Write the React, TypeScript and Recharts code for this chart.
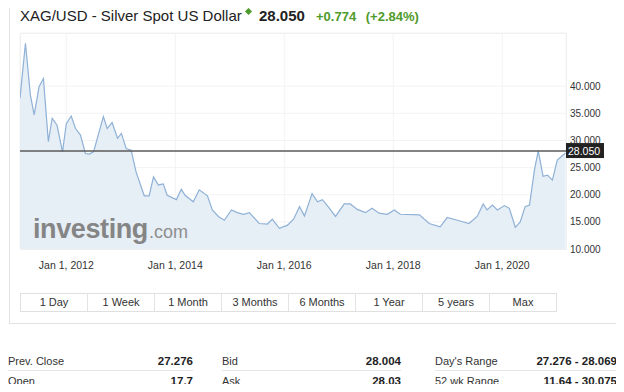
import React from "react";
import {
    Area,
    AreaChart,
    CartesianGrid,
    ReferenceLine,
    XAxis,
    YAxis
} from "recharts";

// --- dữ liệu (năm thập phân, giá bạc USD) ---
const years = [
    2011.15, 2011.25, 2011.34, 2011.41, 2011.50, 2011.58, 2011.67, 2011.74, 2011.83, 2011.93,
    2012.00, 2012.09, 2012.17, 2012.26, 2012.35, 2012.42, 2012.50, 2012.68, 2012.75, 2012.84,
    2012.94, 2013.01, 2013.10, 2013.19, 2013.28, 2013.43, 2013.52, 2013.60, 2013.69, 2013.78,
    2013.85, 2014.02, 2014.11, 2014.18, 2014.33, 2014.44, 2014.59, 2014.68, 2014.79, 2014.90,
    2015.03, 2015.14, 2015.25, 2015.36, 2015.54, 2015.69, 2015.78, 2015.91, 2016.06, 2016.17,
    2016.28, 2016.37, 2016.51, 2016.61, 2016.70, 2016.83, 2016.94, 2017.10, 2017.21, 2017.34,
    2017.49, 2017.61, 2017.74, 2017.89, 2018.02, 2018.13, 2018.48, 2018.66, 2018.86, 2018.99,
    2019.21, 2019.39, 2019.54, 2019.65, 2019.72, 2019.82, 2019.91, 2020.04, 2020.13, 2020.24,
    2020.33, 2020.42, 2020.50, 2020.59, 2020.66, 2020.75, 2020.83, 2020.92, 2021.01, 2021.08,
    2021.16
];
const prices = [
    37.8, 47.9, 38.4, 34.7, 39.9, 41.4, 29.8, 34.1, 32.8, 27.9,
    33.1, 34.5, 32.2, 31.0, 27.6, 27.5, 27.9, 34.4, 32.2, 33.3,
    30.4, 31.3, 28.5, 28.2, 24.2, 19.8, 19.8, 23.3, 21.8, 22.0,
    19.9, 19.1, 21.0, 19.9, 18.7, 20.9, 19.8, 17.2, 16.0, 15.3,
    17.2, 16.7, 16.4, 16.7, 14.7, 14.6, 15.5, 13.8, 14.4, 15.5,
    17.8, 16.1, 20.2, 18.7, 19.1, 17.5, 16.0, 18.3, 18.3, 17.3,
    16.7, 17.5, 16.6, 16.4, 17.2, 16.4, 16.3, 14.7, 14.1, 15.8,
    15.2, 14.7, 16.0, 18.3, 17.2, 18.1, 17.2, 18.0, 17.5, 14.0,
    15.0, 17.8, 18.1, 24.5, 28.1, 23.4, 23.6, 22.7, 26.4, 27.0,
    27.7
];
const xTicks = [2012, 2014, 2016, 2018, 2020];
const yTicks = [10, 15, 20, 25, 30, 35, 40];
const lastPrice = 28.05;

const ranges = ["1 Day", "1 Week", "1 Month", "3 Months", "6 Months", "1 Year", "5 years", "Max"];

const statLabels = [["Prev. Close", "Open"], ["Bid", "Ask"], ["Day's Range", "52 wk Range"]];
const statValues = [["27.276", "17.7"], ["28.004", "28.03"], ["27.276 - 28.069", "11.64 - 30.075"]];

const data = years.map((t, i) => ({ t, price: prices[i] }));

const FONT = '"Liberation Sans", Arial, Helvetica, sans-serif';
const GREEN = "#4f9a2c";

const PriceTag = (props: any) => {
    const vb = props.viewBox || {};
    const x = vb.x + vb.width;
    const y = vb.y;
    return (
        <g>
            <rect x={x} y={y - 8} width={38} height={15} fill="#222" />
            <text x={x + 2} y={y + 3.5} fill="#fff" fontSize={10.5} fontFamily={FONT}>
                {lastPrice.toFixed(3)}
            </text>
        </g>
    );
};

export default function App() {
    const cols = [
        { left: 8, right: 193 },
        { left: 222, right: 401 },
        { left: 435, right: 617 }
    ];
    return (
        <div style={{ position: "relative", margin: -8, width: 624, height: 392, overflow: "hidden", background: "#fff", fontFamily: FONT, color: "#333" }}>
            {/* khung */}
            <div style={{ position: "absolute", left: 9, top: -5, width: 608, height: 327, border: "1px solid #e2e2e2" }} />

            {/* tiêu đề */}
            <div style={{ position: "absolute", left: 20, top: 7, fontSize: 15, whiteSpace: "nowrap", lineHeight: "17px", color: "#222" }}>
                XAG/USD - Silver Spot US Dollar
            </div>
            <div style={{ position: "absolute", left: 246, top: 9, width: 5, height: 5, background: GREEN, transform: "rotate(45deg)" }} />
            <div style={{ position: "absolute", left: 259, top: 7, fontSize: 15, fontWeight: "bold", lineHeight: "17px", color: "#222" }}>28.050</div>
            <div style={{ position: "absolute", left: 316, top: 9, fontSize: 13, fontWeight: "bold", lineHeight: "15px", color: GREEN, whiteSpace: "nowrap" }}>
                +0.774 <span style={{ marginLeft: 6 }}>(+2.84%)</span>
            </div>

            {/* viền vùng vẽ */}
            <div style={{ position: "absolute", left: 20, top: 33, width: 545, height: 215, border: "1px solid #ededed" }} />

            <div style={{ position: "absolute", left: 0, top: 0 }}>
                <AreaChart width={624} height={285} data={data} margin={{ top: 33, right: 0, left: 20, bottom: 0 }}>
                    <CartesianGrid stroke="#f3f3f3" />
                    <XAxis
                        dataKey="t"
                        type="number"
                        domain={[2011.15, 2021.17]}
                        ticks={xTicks}
                        tickFormatter={(v) => `Jan 1, ${v}`}
                        axisLine={false}
                        tickLine={false}
                        tickSize={6}
                        tickMargin={7}
                        height={36}
                        tick={{ fontSize: 10.5, fill: "#333", fontFamily: FONT }}
                        allowDataOverflow
                    />
                    <YAxis
                        orientation="right"
                        domain={[10, 49.8]}
                        ticks={yTicks}
                        tickFormatter={(v) => v.toFixed(3)}
                        axisLine={false}
                        tickLine={false}
                        tickSize={0}
                        tickMargin={4}
                        width={58}
                        tick={{ fontSize: 10, fill: "#333", fontFamily: FONT, textAnchor: "start" }}
                        allowDataOverflow
                    />
                    <Area
                        type="linear"
                        dataKey="price"
                        stroke="#8fb1d6"
                        strokeWidth={1.2}
                        fill="#e6eef6"
                        fillOpacity={1}
                        dot={false}
                        activeDot={false}
                        isAnimationActive={false}
                    />
                    <ReferenceLine y={lastPrice} stroke="#5a5a5a" strokeWidth={1.5} label={<PriceTag />} />
                </AreaChart>
            </div>

            {/* logo mờ */}
            <svg style={{ position: "absolute", left: 0, top: 0 }} width={624} height={285}>
                <text x={33} y={238} fontFamily={FONT} fill="#858585">
                    <tspan fontSize={27} fontWeight="bold" letterSpacing={-0.4}>investing</tspan>
                    <tspan fontSize={18} dx={1} fill="#8e8e8e">.com</tspan>
                </text>
            </svg>

            {/* nút khoảng thời gian */}
            <div style={{ position: "absolute", left: 20, top: 293, width: 537, height: 19, border: "1px solid #e0e0e0", display: "flex", boxSizing: "border-box" }}>
                {ranges.map((r, i) => (
                    <div key={r} style={{ flex: 1, fontSize: 11, lineHeight: "17px", textAlign: "center", borderRight: i < ranges.length - 1 ? "1px solid #e3e3e3" : "none", color: "#333" }}>
                        {r}
                    </div>
                ))}
            </div>

            {/* bảng thống kê */}
            {cols.map((c, ci) => (
                <React.Fragment key={ci}>
                    {[0, 1].map((ri) => (
                        <div key={ri} style={{ position: "absolute", left: c.left, top: 352 + ri * 20, width: c.right - c.left, height: 18, borderBottom: "1px solid #e6e6e6", display: "flex", justifyContent: "space-between", alignItems: "center", fontSize: 11 }}>
                            <span>{statLabels[ci][ri]}</span>
                            <span style={{ fontWeight: "bold", fontSize: 11.5, color: "#222" }}>{statValues[ci][ri]}</span>
                        </div>
                    ))}
                </React.Fragment>
            ))}
        </div>
    );
}
